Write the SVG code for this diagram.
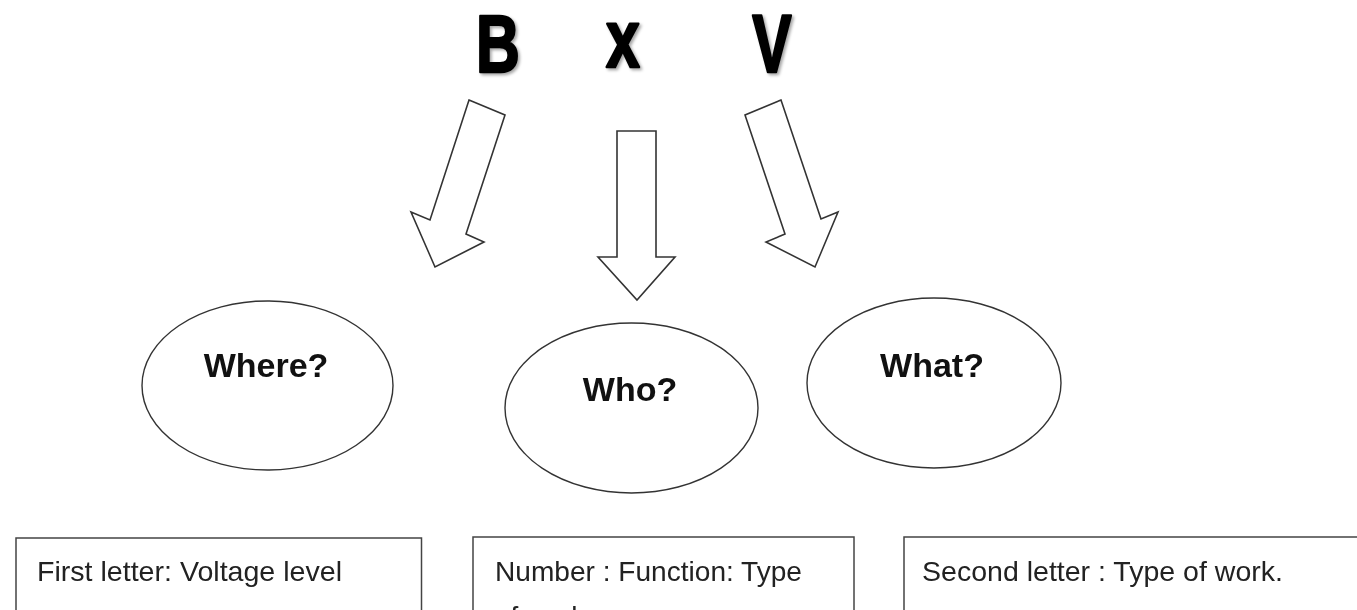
<svg xmlns="http://www.w3.org/2000/svg" width="1357" height="610" viewBox="0 0 1357 610">
  <defs>
    <filter id="shadow" x="-20%" y="-20%" width="140%" height="140%">
      <feDropShadow dx="2" dy="2" stdDeviation="1.5" flood-color="#000" flood-opacity="0.35"/>
    </filter>
  </defs>
  <style>
    .big { font-family: "Liberation Sans", Arial, sans-serif; font-weight: bold; font-size: 82px; fill: #000; stroke: #000; stroke-width: 2.5; stroke-linejoin: round; text-anchor: middle; }
    .arrow { fill: #fff; stroke: #333; stroke-width: 1.6; stroke-linejoin: miter; }
    .oval { fill: #fff; stroke: #333; stroke-width: 1.4; }
    .q { font-family: "Liberation Sans", Arial, sans-serif; font-weight: bold; font-size: 34px; fill: #111; text-anchor: middle; }
    .box { fill: #fff; stroke: #444; stroke-width: 1.5; }
    .t { font-family: "Liberation Sans", Arial, sans-serif; font-size: 28px; fill: #222; }
  </style>
  <rect width="1357" height="610" fill="#fff"/>

  <g id="letters" filter="url(#shadow)">
    <g id="letter-B"><text class="big" transform="translate(498,72) scale(0.74,1)">B</text></g>
    <g id="letter-x"><text class="big" transform="translate(623,67) scale(0.74,1)">x</text></g>
    <g id="letter-V"><text class="big" transform="translate(772,72) scale(0.72,1)">V</text></g>
  </g>

  <g id="connectors">
    <polygon class="arrow" points="469,100 505,115 466,234 484,242 435,267 411,212 430,220"/>
    <polygon class="arrow" points="617,131 656,131 656,257 675,257 637,300 598,257 617,257"/>
    <polygon class="arrow" points="781,100 745,115 785,234 766,242 815,267 838,212 821,219"/>
  </g>

  <g id="node-where">
    <ellipse class="oval" cx="267.5" cy="385.5" rx="125.5" ry="84.5"/>
    <text class="q" x="266" y="377">Where?</text>
  </g>
  <g id="node-who">
    <ellipse class="oval" cx="631.5" cy="408" rx="126.5" ry="85"/>
    <text class="q" x="630" y="401">Who?</text>
  </g>
  <g id="node-what">
    <ellipse class="oval" cx="934" cy="383" rx="127" ry="85"/>
    <text class="q" x="932" y="377">What?</text>
  </g>

  <g id="box-first">
    <rect class="box" x="16" y="538" width="405.5" height="100"/>
    <text class="t" x="37" y="581" textLength="305" lengthAdjust="spacingAndGlyphs">First letter: Voltage level</text>
  </g>
  <g id="box-number">
    <rect class="box" x="473" y="537" width="381" height="100"/>
    <text class="t" x="495" y="581" textLength="307" lengthAdjust="spacingAndGlyphs">Number : Function:  Type</text>
    <text class="t" x="495" y="626">of work</text>
  </g>
  <g id="box-second">
    <rect class="box" x="904" y="537" width="480" height="100"/>
    <text class="t" x="922" y="581" textLength="361" lengthAdjust="spacingAndGlyphs">Second letter : Type of work.</text>
  </g>
</svg>
